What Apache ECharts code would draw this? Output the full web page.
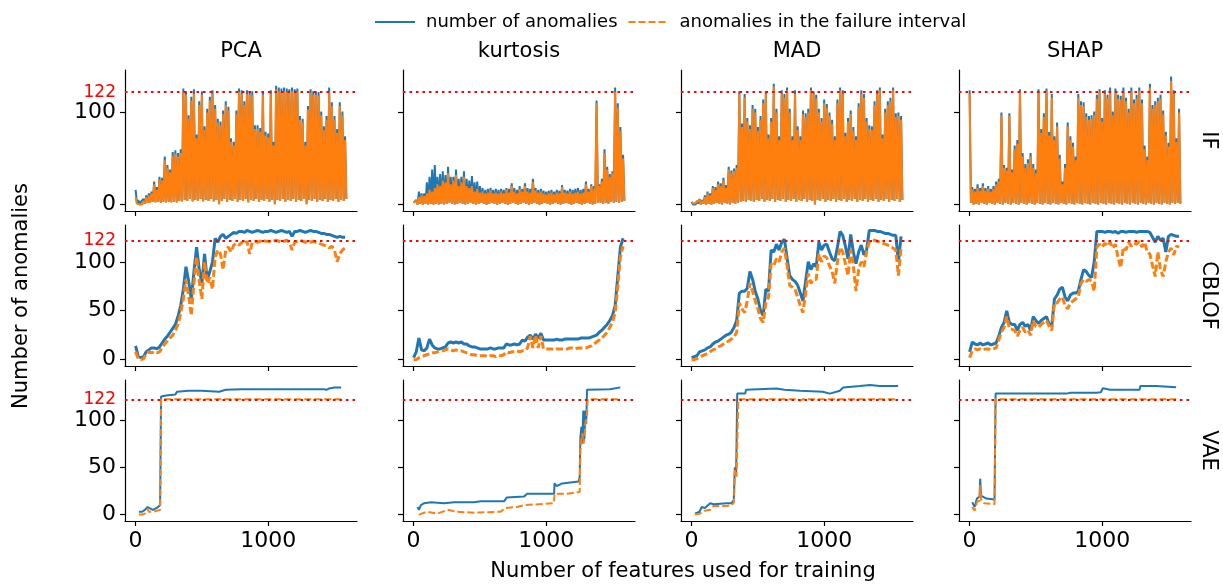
<!DOCTYPE html>
<html><head><meta charset="utf-8">
<script src="https://cdn.jsdelivr.net/npm/echarts@6/dist/echarts.min.js"></script>
<style>html,body{margin:0;padding:0;background:#fff}#c{width:1223px;height:586px}</style>
</head><body><div id="c"></div>
<script>
// ---------- data ----------
const methods = ['PCA', 'kurtosis', 'MAD', 'SHAP'];
const detectors = ['IF', 'CBLOF', 'VAE'];
const failureCount = 122;
const seriesNames = ['number of anomalies', 'anomalies in the failure interval'];
const xTicks = [0, 1000];
const yTicksRow = [[0, 100], [0, 50, 100], [0, 50, 100]];

const X10 = [0,10,20,30,40,50,60,70,80,90,100,110,120,130,140,150,160,170,180,190,
200,210,220,230,240,250,260,270,280,290,300,310,320,330,340,350,360,370,380,390,
400,410,420,430,440,450,460,470,480,490,500,510,520,530,540,550,560,570,580,590,
600,610,620,630,640,650,660,670,680,690,700,710,720,730,740,750,760,770,780,790,
800,810,820,830,840,850,860,870,880,890,900,910,920,930,940,950,960,970,980,990,
1000,1010,1020,1030,1040,1050,1060,1070,1080,1090,1100,1110,1120,1130,1140,1150,1160,1170,1180,1190,
1200,1210,1220,1230,1240,1250,1260,1270,1280,1290,1300,1310,1320,1330,1340,1350,1360,1370,1380,1390,
1400,1410,1420,1430,1440,1450,1460,1470,1480,1490,1500,1510,1520,1530,1540,1550,1560,1570,1580,1590];
const X20 = [0,20,40,60,80,100,120,140,160,180,200,220,240,260,280,300,320,340,360,380,
400,420,440,460,480,500,520,540,560,580,600,620,640,660,680,700,720,740,760,780,
800,820,840,860,880,900,920,940,960,980,1000,1020,1040,1060,1080,1100,1120,1140,1160,1180,
1200,1220,1240,1260,1280,1300,1320,1340,1360,1380,1400,1420,1440,1460,1480,1500,1520,1540,1560,1580];

// IF row (on X10)
const pcaIfBlue = [16,2,5,0,3,1,6,1,10,2,12,3,14,3,25,3,19,3,30,2,
29,3,52,3,43,3,38,3,57,3,59,3,56,4,60,4,126,5,123,4,
97,6,117,4,125,5,76,4,112,6,123,4,85,5,104,4,117,6,124,4,
108,5,93,1,90,4,102,6,112,3,106,5,72,4,68,6,102,3,126,5,
124,4,112,6,124,3,123,5,123,4,86,6,86,3,83,5,123,4,79,6,
77,3,124,5,68,1,129,5,127,4,126,6,127,3,126,5,125,4,127,6,
125,3,126,5,96,4,93,6,68,1,107,5,125,4,123,6,123,3,122,5,
101,4,85,6,96,3,127,5,111,4,96,6,82,3,111,5,101,4,74,6];
const pcaIfOrange = [8,1,3,0,1,0,4,1,8,2,10,2,12,3,22,2,16,3,27,2,
26,3,48,2,40,3,35,2,53,3,55,2,52,4,56,3,122,5,119,4,
93,6,113,3,120,5,72,4,108,6,119,3,81,5,100,4,113,6,120,3,
104,5,89,0,86,4,98,6,108,3,102,5,68,4,64,6,98,3,122,5,
120,4,108,6,120,2,119,5,119,4,82,6,82,3,79,5,119,4,75,6,
73,3,120,5,64,0,125,5,123,4,122,6,123,3,122,5,121,4,123,6,
121,3,122,5,92,4,89,6,64,0,103,5,121,4,119,6,119,3,118,5,
97,4,81,6,92,3,122,5,107,4,92,6,78,3,107,5,97,4,70,6];
const kurtIfBlue = [2,0,5,0,14,1,12,0,12,1,24,0,30,1,38,0,43,1,30,0,
33,1,36,0,32,1,41,2,30,1,30,0,38,1,28,2,30,1,36,0,
28,1,26,2,31,1,24,0,25,1,20,2,18,1,16,0,17,1,18,2,
16,1,17,0,16,1,17,2,16,1,18,0,17,1,23,2,18,1,16,0,
20,1,17,2,23,1,18,0,17,1,28,2,18,1,16,0,17,1,15,2,
14,1,15,0,16,1,14,2,16,1,15,0,21,1,16,2,15,1,17,0,
16,1,17,2,18,1,16,0,17,1,25,2,17,1,22,0,20,1,113,2,
22,2,28,1,60,2,41,1,33,3,36,2,127,3,110,2,84,3,54,4];
const kurtIfOrange = [2,0,4,0,8,1,10,0,9,1,12,0,16,1,14,0,18,1,22,0,
20,1,26,0,24,1,34,2,22,1,26,0,32,1,20,2,24,1,30,0,
20,1,18,2,20,1,14,0,17,1,13,2,14,1,12,0,13,1,15,2,
12,1,13,0,12,1,14,2,12,1,16,0,13,1,20,2,14,1,12,0,
17,1,14,2,20,1,14,0,13,1,24,2,15,1,13,0,14,1,12,2,
11,1,12,0,13,1,11,2,13,1,12,0,19,1,13,2,12,1,14,0,
12,1,13,2,14,1,12,0,13,1,22,2,14,1,20,0,17,1,110,2,
20,2,25,1,56,2,38,1,30,3,34,2,122,3,105,2,80,3,50,4];
const madIfBlue = [3,0,2,0,4,1,6,0,5,1,10,0,14,1,12,0,20,1,19,2,
25,1,23,0,29,2,21,1,41,0,37,2,39,1,43,2,123,3,88,4,
120,3,94,5,86,4,108,3,104,5,84,4,96,6,114,3,123,5,76,4,
94,6,131,3,104,5,74,4,124,6,120,3,127,5,104,4,74,6,124,3,
85,5,74,4,102,6,99,3,104,5,127,4,123,0,119,5,104,4,94,6,
114,3,109,5,100,4,92,6,74,3,114,5,127,4,124,6,78,3,94,5,
102,4,84,6,74,3,110,5,124,4,120,6,94,3,86,5,85,4,112,6,
124,3,127,5,76,4,104,6,112,3,116,5,127,4,99,6,100,3,96,5];
const madIfOrange = [2,0,1,0,3,1,5,0,4,1,8,0,12,1,10,0,18,1,16,2,
22,1,20,0,26,2,18,1,38,0,34,2,36,1,40,2,120,3,84,4,
116,3,90,5,82,4,104,3,100,5,80,4,92,6,110,3,120,5,72,4,
90,6,128,3,100,5,70,4,120,6,116,3,124,5,100,4,70,6,120,3,
81,5,70,4,98,6,95,3,100,5,124,4,120,0,115,5,100,4,90,6,
110,3,105,5,96,4,88,6,70,3,110,5,124,4,120,6,74,3,90,5,
98,4,80,6,70,3,106,5,120,4,116,6,90,3,82,5,81,4,108,6,
120,3,124,5,72,4,100,6,108,3,112,5,124,4,95,6,96,3,92,5];
const shapIfBlue = [124,2,19,0,17,1,22,0,18,2,23,1,18,0,20,2,17,1,20,0,
25,2,28,1,100,0,43,2,40,1,99,0,38,2,64,1,70,0,125,2,
56,1,44,0,49,2,56,1,44,0,38,2,125,1,82,0,99,2,126,1,
79,0,120,2,74,1,89,0,54,2,25,1,44,0,89,2,74,1,67,0,
52,2,120,1,112,0,111,2,99,1,96,0,97,2,101,1,119,0,125,2,
94,1,124,0,119,2,127,1,101,0,126,2,119,1,118,0,127,2,116,1,
104,0,127,2,114,1,119,0,127,2,114,1,64,0,52,2,131,1,108,0,
112,2,116,1,119,0,102,2,79,1,67,0,139,2,124,1,72,2,104,1];
const shapIfOrange = [120,2,16,0,14,1,18,0,15,2,20,1,15,0,17,2,14,1,17,0,
22,2,25,1,97,0,40,2,37,1,96,0,35,2,60,1,66,0,122,2,
52,1,40,0,45,2,52,1,40,0,34,2,122,1,78,0,95,2,123,1,
75,0,116,2,70,1,85,0,50,2,22,1,40,0,85,2,70,1,63,0,
48,2,116,1,108,0,107,2,95,1,92,0,93,2,97,1,115,0,122,2,
90,1,120,0,115,2,123,1,97,0,122,2,115,1,114,0,123,2,112,1,
100,0,123,2,110,1,115,0,123,2,110,1,60,0,48,2,127,1,104,0,
108,2,112,1,115,0,98,2,75,1,63,0,134,2,120,1,68,2,100,1];

// CBLOF row (on X20)
const pcaCblofBlue = [14,3,2,3,8,10,12,12,11,13,17,21,24,28,32,36,44,55,72,95,
80,62,90,115,92,78,108,82,90,100,124,120,126,128,124,126,128,130,129,131,
131,130,132,131,130,131,132,131,130,131,131,132,131,130,131,132,131,130,131,126,
131,131,132,131,130,131,132,131,131,130,129,129,128,128,127,126,125,126,125,125];
const pcaCblofOrange = [8,1,0,1,6,8,7,8,7,8,12,16,19,22,25,30,36,47,62,82,
65,45,78,105,80,62,100,78,84,72,105,112,108,92,112,115,110,117,119,117,
120,118,121,108,120,121,120,121,122,121,121,120,121,122,121,120,121,122,120,112,
120,121,122,121,120,121,120,121,120,119,118,117,116,114,116,112,100,108,112,114];
const kurtCblofBlue = [2,8,22,10,9,12,21,15,12,11,11,12,13,17,18,17,18,17,18,16,
16,14,13,13,12,11,11,11,11,12,11,11,12,12,12,16,15,15,16,15,
16,20,19,23,25,21,26,22,27,20,20,20,20,20,21,20,20,21,21,21,
21,21,21,22,22,22,22,23,24,25,28,30,33,36,40,45,55,85,115,124];
const kurtCblofOrange = [0,0,2,3,4,5,6,7,7,8,9,9,10,11,10,9,10,9,9,8,
7,6,5,5,4,4,4,4,3,4,4,3,4,4,5,8,7,8,8,9,
8,9,9,12,24,12,25,12,24,11,11,11,11,10,11,11,11,11,11,12,
12,11,12,12,12,12,13,14,16,18,20,22,25,28,33,38,48,75,105,116];
const madCblofBlue = [2,3,4,8,9,10,12,13,16,18,19,21,23,25,26,28,33,40,68,70,
70,73,90,82,70,62,50,45,72,70,112,110,118,112,120,123,104,86,82,80,
76,68,60,80,100,92,98,95,120,112,117,118,110,103,101,115,131,127,116,103,
128,110,98,110,117,107,112,132,132,132,131,131,130,129,129,128,127,127,100,126];
const madCblofOrange = [0,0,1,2,4,5,6,8,10,11,13,14,16,18,19,21,23,28,58,52,
48,60,78,70,60,52,42,38,58,64,98,96,103,100,110,114,96,76,74,72,
64,55,48,68,88,78,82,82,108,100,106,104,96,90,78,100,115,110,98,86,
112,96,70,92,100,95,110,120,122,122,121,120,119,118,117,116,114,112,86,114];
const shapCblofBlue = [8,18,16,15,17,15,16,17,15,16,17,24,33,38,50,38,36,36,30,36,
38,34,36,30,44,40,37,40,42,44,36,35,62,66,72,74,64,60,66,68,
68,70,82,92,90,86,84,100,131,131,131,130,131,131,130,131,129,131,131,130,
131,131,131,130,131,131,131,131,130,125,120,126,122,124,110,126,128,127,126,126];
const shapCblofOrange = [2,9,11,10,11,10,11,11,10,11,12,20,28,33,44,32,31,30,24,30,
33,28,30,25,40,34,33,36,38,40,34,30,58,58,62,64,55,52,58,60,
62,64,78,82,80,82,80,70,115,118,115,119,116,120,114,118,104,94,115,112,
120,116,119,118,121,115,120,110,108,96,85,110,92,85,100,110,114,107,116,115];

// VAE row ([features, anomalies] pairs)
const pcaVaeBlue = [[25,3],[50,3],[70,5],[90,8],[100,6],[130,5],[160,7],[185,10],[192,125],[230,126],[300,127],[312,130],[400,131],[500,131],[630,130],[680,132],[800,132.5],[1000,132.5],[1200,132.5],[1420,132.5],[1440,132],[1460,133.5],[1500,134.5],[1550,134.5]];
const pcaVaeOrange = [[25,0],[50,0],[70,1],[90,6],[100,3],[130,3],[160,4],[185,5],[192,122],[1550,122]];
const kurtVaeBlue = [[30,8],[40,5],[55,10],[80,12],[130,13],[230,12],[306,13],[456,13],[506,14],[682,14],[702,18],[832,19],[857,22],[1060,22],[1063,33],[1080,30],[1120,33],[1245,35],[1253,40],[1258,82],[1266,93],[1272,75],[1280,110],[1288,80],[1296,110],[1302,96],[1308,132],[1480,132.5],[1486,134.6],[1559,134.6]];
const kurtVaeOrange = [[40,0],[100,3],[180,1],[256,5],[330,3],[456,2],[656,3],[692,7],[780,8],[832,10],[1058,12],[1063,22],[1160,22],[1253,24],[1258,68],[1271,86],[1283,75],[1296,96],[1308,107],[1313,122],[1559,122]];
const madVaeBlue = [[25,1],[60,3],[75,8],[100,7],[140,12],[165,11],[265,12],[300,12],[318,15],[326,50],[336,45],[344,128],[405,128],[410,132],[640,133.5],[700,132],[817,131],[990,130],[1043,128],[1118,131],[1143,134.5],[1270,136],[1345,137],[1420,136],[1558,136]];
const madVaeOrange = [[25,0],[63,1],[100,4],[140,5],[163,9],[264,9],[302,10],[319,13],[327,47],[339,40],[352,122],[800,122],[817,120.5],[840,122],[1558,122]];
const shapVaeBlue = [[20,13],[38,8],[55,17],[75,19],[80,38],[86,20],[100,19],[126,17],[188,16],[194,16],[196,128],[729,128],[740,127],[760,129],[955,129],[990,129.5],[998,131],[1005,133.6],[1060,132],[1282,132],[1287,136],[1407,136],[1420,134.6],[1558,134.6]];
const shapVaeOrange = [[20,8],[38,4],[55,13],[75,15],[80,31],[86,16],[110,12],[188,11],[196,122],[1558,122]];

// ---------- layout / style ----------
const BLUE = '#1f77b4', ORANGE = '#ff7f0e', RED = '#ff0000';
const FONT = 'DejaVu Sans';
const DASH = [7, 3];
const colLeft = [125, 403, 681, 959], colW = 232;
const rowTop = [70, 225, 380], rowH = 141;
const yRange = [[-7, 146], [-6.5, 137.6], [-6.8, 142.4]];
const xRange = [-80, 1670];
const rowLineW = [2, 3, 2];

function pairs(xs, ys) { return xs.map((x, i) => [x, ys[i]]); }
const panelData = [
  [[pairs(X10, pcaIfBlue), pairs(X10, pcaIfOrange)], [pairs(X10, kurtIfBlue), pairs(X10, kurtIfOrange)],
   [pairs(X10, madIfBlue), pairs(X10, madIfOrange)], [pairs(X10, shapIfBlue), pairs(X10, shapIfOrange)]],
  [[pairs(X20, pcaCblofBlue), pairs(X20, pcaCblofOrange)], [pairs(X20, kurtCblofBlue), pairs(X20, kurtCblofOrange)],
   [pairs(X20, madCblofBlue), pairs(X20, madCblofOrange)], [pairs(X20, shapCblofBlue), pairs(X20, shapCblofOrange)]],
  [[pcaVaeBlue, pcaVaeOrange], [kurtVaeBlue, kurtVaeOrange], [madVaeBlue, madVaeOrange], [shapVaeBlue, shapVaeOrange]]
];

const grid = [], xAxis = [], yAxis = [], series = [];
let k = 0;
for (let r = 0; r < 3; r++) {
  for (let c = 0; c < 4; c++) {
    grid.push({ left: colLeft[c], top: rowTop[r], width: colW, height: rowH, containLabel: false });
    xAxis.push({
      type: 'value', gridIndex: k, min: xRange[0], max: xRange[1],
      splitLine: { show: false },
      axisLine: { show: true, onZero: false, lineStyle: { color: '#000', width: 1.2 } },
      axisTick: { show: true, length: 5, customValues: xTicks, lineStyle: { color: '#000', width: 1.2 } },
      axisLabel: { show: r === 2, customValues: xTicks, margin: 9, color: '#000', fontSize: 22, fontFamily: FONT,
        formatter: v => String(v) }
    });
    const labelVals = yTicksRow[r].concat([failureCount]);
    yAxis.push({
      type: 'value', gridIndex: k, min: yRange[r][0], max: yRange[r][1],
      splitLine: { show: false },
      axisLine: { show: true, onZero: false, lineStyle: { color: '#000', width: 1.2 } },
      axisTick: { show: true, length: 5, customValues: yTicksRow[r], lineStyle: { color: '#000', width: 1.2 } },
      axisLabel: {
        show: c === 0, customValues: labelVals, margin: 9, color: '#000', fontSize: 22, fontFamily: FONT,
        formatter: v => (v === failureCount ? '{r|' + v + '}' : String(v)),
        rich: { r: { color: RED, fontSize: 17, fontFamily: FONT } }
      }
    });
    const [b, o] = panelData[r][c];
    series.push({
      name: seriesNames[0], type: 'line', xAxisIndex: k, yAxisIndex: k, data: b,
      showSymbol: false, symbol: 'none', animation: false, silent: true,
      lineStyle: { color: BLUE, width: rowLineW[r] }, itemStyle: { color: BLUE }, z: 2
    });
    series.push({
      name: seriesNames[1], type: 'line', xAxisIndex: k, yAxisIndex: k, data: o,
      showSymbol: false, symbol: 'none', animation: false, silent: true,
      lineStyle: { color: ORANGE, width: rowLineW[r], type: r === 0 ? 'solid' : DASH }, itemStyle: { color: ORANGE }, z: 3,
      markLine: {
        silent: true, symbol: ['none', 'none'], animation: false, label: { show: false },
        lineStyle: { color: RED, width: 2.2, type: [2.5, 4] },
        data: [{ yAxis: failureCount }]
      }
    });
    k++;
  }
}

const graphic = [];
const bigFont = '21px "DejaVu Sans"';
methods.forEach((m, c) => graphic.push({
  type: 'text', x: colLeft[c] + colW / 2, y: 52,
  style: { text: m, font: bigFont, fill: '#000', align: 'center', verticalAlign: 'middle' }
}));
detectors.forEach((d, r) => graphic.push({
  type: 'text', x: 1208, y: rowTop[r] + rowH / 2, rotation: -Math.PI / 2,
  style: { text: d, font: bigFont, fill: '#000', align: 'center', verticalAlign: 'middle' }
}));
graphic.push({
  type: 'text', x: 22, y: 296, rotation: Math.PI / 2,
  style: { text: 'Number of anomalies', font: bigFont, fill: '#000', align: 'center', verticalAlign: 'middle' }
});
graphic.push({
  type: 'text', x: 683, y: 572,
  style: { text: 'Number of features used for training', font: bigFont, fill: '#000', align: 'center', verticalAlign: 'middle' }
});

const chart = echarts.init(document.getElementById('c'), null, { renderer: 'canvas' });
chart.setOption({
  backgroundColor: '#fff',
  animation: false,
  legend: {
    data: [
      { name: seriesNames[0], lineStyle: { color: BLUE, width: 2, type: 'solid' } },
      { name: seriesNames[1], lineStyle: { color: ORANGE, width: 2, type: DASH } }
    ],
    top: 8, left: 369, itemWidth: 40, itemHeight: 12, itemGap: 10,
    itemStyle: { opacity: 0 },
    textStyle: { fontSize: 18, fontFamily: FONT, color: '#000', padding: [0, 0, 0, 6] }
  },
  grid, xAxis, yAxis, series, graphic
});
</script></body></html>
